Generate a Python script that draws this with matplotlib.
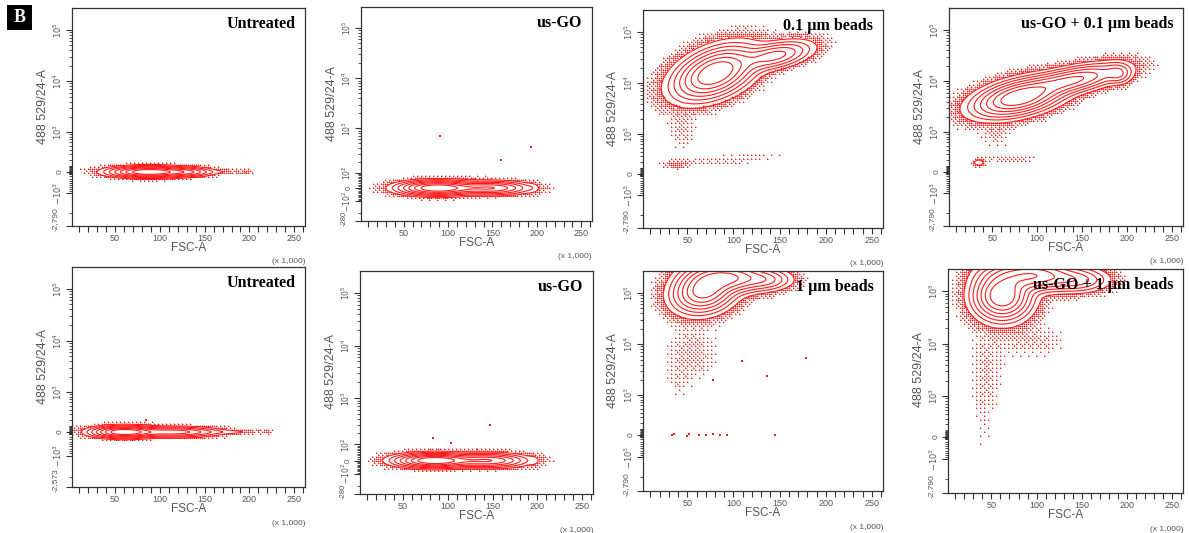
import numpy as np
import matplotlib
matplotlib.use("Agg")
import matplotlib.pyplot as plt
from matplotlib.colors import to_rgba
from matplotlib.patches import Rectangle
from matplotlib.ticker import FixedLocator, FuncFormatter, NullFormatter

plt.rcParams["font.family"] = ["Liberation Sans", "DejaVu Sans"]

RED = "#ff1a1a"
PINK = "#ff9a9a"
AXIS_GREY = "#333333"
TEXT_GREY = "#555555"

# ---- panel data -------------------------------------------------------------
TITLES = ["Untreated", "us-GO", "0.1 µm beads", "us-GO + 0.1 µm beads",
          "Untreated", "us-GO", "1 µm beads", "us-GO + 1 µm beads"]
Y_MIN = [-2790, -280, -2790, -2790, -2573, -280, -2790, -2790]
Y_MAX = 262144
# biexponential display: linear width of the positive branch, share of the axis below zero
POS_WIDTH = [346, 131, 346, 346, 346, 131, 346, 346]
ZERO_FRAC = [0.248, 0.154, 0.248, 0.248, 0.25, 0.15, 0.255, 0.25]
FSC_TICKS = [50, 100, 150, 200, 250]

# populations: (FSC x1000, 488 529/24-A value, FSC spread, display spread, tilt, weight)
POP_UNTREATED_1 = [(88, 0, 22, 0.013, 0.0, 1.0),
                   (130, 0, 15, 0.011, 0.0, 0.3),
                   (170, 0, 18, 0.007, 0.0, 0.022),
                   (196, 0, 4, 0.006, 0.0, 0.02)]
POP_USGO_1 = [(88, 0, 22, 0.017, 0.0, 1.0),
              (148, 0, 22, 0.016, 0.0, 0.5),
              (195, 0, 4, 0.016, 0.0, 0.02)]
POP_BEADS01 = [(80, 15600, 22, 0.055, 0.0012, 1.0),
               (145, 34000, 20, 0.03, 0.0008, 0.4),
               (38, 146, 8, 0.012, 0.0, 0.02),
               (90, 221, 40, 0.015, 0.0003, 0.005),
               (45, 1200, 10, 0.06, 0.0, 0.005)]
POP_USGO_BEADS01 = [(80, 4800, 25, 0.04, 0.0008, 1.0),
                    (140, 10500, 28, 0.03, 0.0008, 0.55),
                    (190, 14000, 8, 0.025, 0.0, 0.2),
                    (35, 146, 4, 0.01, 0.0, 0.06),
                    (70, 221, 20, 0.012, 0.0, 0.007),
                    (55, 890, 12, 0.04, 0.0, 0.005)]
POP_UNTREATED_2 = [(60, 0, 18, 0.0135, 0.0, 1.0),
                   (115, 0, 25, 0.012, 0.0, 0.45),
                   (175, 0, 25, 0.006, 0.0, 0.035),
                   (220, 0, 4, 0.005, 0.0, 0.02)]
POP_USGO_2 = [(85, 0, 22, 0.016, 0.0, 1.0),
              (145, 0, 22, 0.016, 0.0, 0.5),
              (196, 0, 4, 0.016, 0.0, 0.02)]
POP_BEADS1 = [(68, 109000, 17, 0.05, 0.0005, 1.0),
              (95, 196000, 22, 0.035, 0.0, 0.8),
              (135, 177000, 15, 0.025, 0.0, 0.25),
              (55, 6500, 18, 0.08, 0.0, 0.007),
              (40, 1640, 8, 0.06, 0.0, 0.003)]
POP_USGO_BEADS1 = [(62, 82000, 16, 0.055, 0.0, 1.0),
                   (95, 196000, 25, 0.035, 0.0, 0.7),
                   (145, 162000, 18, 0.028, 0.0, 0.25),
                   (45, 3300, 12, 0.12, 0.0, 0.005),
                   (40, 184, 8, 0.12, 0.0, 0.002),
                   (95, 11500, 25, 0.05, 0.0, 0.005)]
POPULATIONS = [POP_UNTREATED_1, POP_USGO_1, POP_BEADS01, POP_USGO_BEADS01,
               POP_UNTREATED_2, POP_USGO_2, POP_BEADS1, POP_USGO_BEADS1]

# single events away from the main populations
OUT_FSC = [[], [91, 160, 193], [], [], [85], [147, 83, 104],
           [33, 36, 50, 52, 63, 70, 78, 85, 93, 145, 179, 136, 109, 78], []]
OUT_FL = [[], [702, 218, 420], [], [], [190], [300, 154, 112],
          [-20, 10, -30, 20, 0, -10, 15, -25, 5, 0, 5300, 2400, 4600, 2000], []]

CONTOUR_LEVELS = [0.03, 0.07, 0.13, 0.22, 0.34, 0.5, 0.7]
DOT_FLOOR = 0.0012      # below this density no events are drawn
DOT_PEAK = 0.3          # share of pixels lit just outside the outer contour

# axes boxes in pixels: left, right, top, bottom
BOXES = [(72, 305, 8, 226), (361, 592, 7, 221), (643, 883, 10, 228), (949, 1183, 8, 226),
         (72, 305, 267, 487), (360, 593, 271, 494), (643, 883, 271, 491), (948, 1183, 269, 493)]
X_RANGE = (2, 262)

W, H = 1189, 533
fig = plt.figure(figsize=(W / 100, H / 100), dpi=100)


def bayer(n):
    m = np.array([[0]])
    while m.shape[0] < n:
        m = np.block([[4 * m, 4 * m + 2], [4 * m + 3, 4 * m + 1]])
    return (m + 0.5) / m.size


BAYER = bayer(8)


def make_scale(ymin, wp, zf):
    pos_span = np.arcsinh(Y_MAX / wp)
    neg_k = pos_span * zf / (1 - zf) / np.arcsinh(1.0)
    wn = abs(ymin)

    def fwd(v):
        v = np.asarray(v, dtype=float)
        return np.where(v >= 0, np.arcsinh(np.maximum(v, 0) / wp),
                        neg_k * np.arcsinh(np.minimum(v, 0) / wn))

    def inv(s):
        s = np.asarray(s, dtype=float)
        return np.where(s >= 0, wp * np.sinh(np.maximum(s, 0)),
                        wn * np.sinh(np.minimum(s, 0) / neg_k))

    return fwd, inv


def y_ticks(ymin, wp):
    if wp < 200:
        major = [-100, 0, 100, 1e3, 1e4, 1e5]
        labels = ["$-10^2$", "0", "$10^2$", "$10^3$", "$10^4$", "$10^5$"]
    else:
        major = [-1e3, 0, 1e3, 1e4, 1e5]
        labels = ["$-10^3$", "0", "$10^3$", "$10^4$", "$10^5$"]
    minor = []
    for n in range(1, 5):
        for k in range(1, 10):
            for s in (1, -1):
                v = s * k * 10 ** n
                if v not in major and ymin < v < Y_MAX:
                    minor.append(v)
    return major, labels, minor


def density(pop, X, T, norm):
    D = np.zeros_like(X)
    for fsc, fl, sx, st, tilt, wt in pop:
        tc = norm(fl) + tilt * (X - fsc)
        D += wt * np.exp(-0.5 * ((X - fsc) / sx) ** 2 - 0.5 * ((T - tc) / st) ** 2)
    return D


for i in range(8):
    l, r, t, b = BOXES[i]
    ax = fig.add_axes([l / W, 1 - b / H, (r - l) / W, (b - t) / H])
    ymin = Y_MIN[i]
    small_scale = POS_WIDTH[i] < 200
    fwd, inv = make_scale(ymin, POS_WIDTH[i], ZERO_FRAC[i])
    lo, hi = fwd(ymin), fwd(Y_MAX)

    def norm(v):
        return (fwd(v) - lo) / (hi - lo)

    def unnorm(tt):
        return inv(lo + tt * (hi - lo))

    pop = POPULATIONS[i]
    # fine grid (uniform in display space) for the contour lines
    X, T = np.meshgrid(np.linspace(*X_RANGE, 600), np.linspace(0, 1, 800))
    D = density(pop, X, T, norm)
    peak = D.max()
    D = D / peak

    # one cell per screen pixel for the single events outside the outer contour
    nx, ny = r - l, b - t
    PX, PY = np.meshgrid(np.arange(nx), np.arange(ny))
    XP = X_RANGE[0] + (PX + 0.5) / nx * (X_RANGE[1] - X_RANGE[0])
    TP = (PY + 0.5) / ny
    DP = density(pop, XP, TP, norm) / peak
    s = np.clip((np.log(np.maximum(DP, 1e-12)) - np.log(DOT_FLOOR))
                / (np.log(CONTOUR_LEVELS[0]) - np.log(DOT_FLOOR)), 0, 1)
    p = DOT_PEAK * s ** 1.3
    p[DP >= CONTOUR_LEVELS[0]] = 0
    lit = p > BAYER[PY % 8, PX % 8]
    halo = np.zeros_like(lit)
    halo[:, 1:] |= lit[:, :-1]
    halo[1:, :] |= lit[:-1, :]
    events = np.ones((ny, nx, 4))
    events[halo & ~lit] = to_rgba(PINK)
    events[lit] = to_rgba(RED)

    ax.set_yscale("function", functions=(fwd, inv))
    ax.imshow(events, extent=(0, 1, 0, 1), transform=ax.transAxes, origin="lower",
              interpolation="nearest", aspect="auto", zorder=1)
    ax.contour(X, unnorm(T), D, levels=CONTOUR_LEVELS, colors=RED, linewidths=0.8, zorder=2)
    if OUT_FSC[i]:
        ax.scatter(OUT_FSC[i], OUT_FL[i], s=1.5, marker="s", c=RED, linewidths=0, zorder=2)

    ax.set_xlim(*X_RANGE)
    ax.set_ylim(ymin, Y_MAX)

    ax.xaxis.set_major_locator(FixedLocator(list(range(10, 261, 10))))
    ax.xaxis.set_major_formatter(FuncFormatter(lambda v, p: f"{int(v)}" if int(v) in FSC_TICKS else ""))
    major, labels, minor = y_ticks(ymin, POS_WIDTH[i])
    ax.yaxis.set_major_locator(FixedLocator([ymin] + major))
    ax.yaxis.set_major_formatter(FuncFormatter(lambda v, p, lab=dict(zip(major, labels)): lab.get(v, "")))
    ax.yaxis.set_minor_locator(FixedLocator(minor))
    ax.yaxis.set_minor_formatter(NullFormatter())
    ax.tick_params(axis="both", which="major", length=4, width=0.8, color=AXIS_GREY,
                   labelsize=6.5, labelcolor=TEXT_GREY, pad=2)
    ax.tick_params(axis="y", which="minor", length=2.5, width=0.6, color=AXIS_GREY)
    ax.tick_params(axis="y", which="major", labelrotation=90,
                   labelsize=5.5 if small_scale else 6)
    for lab in ax.get_yticklabels():
        lab.set_va("center")
    # axis minimum written at the bottom of the scale
    ax.annotate(f"{ymin:,}", xy=(0, ymin), xycoords=("axes fraction", "data"),
                xytext=(-12, 2 if small_scale else 5), textcoords="offset points", rotation=90,
                ha="center", va="center", fontsize=5.5 if small_scale else 6, color=TEXT_GREY)

    for spine in ax.spines.values():
        spine.set_color(AXIS_GREY)
        spine.set_linewidth(0.9)
        spine.set_zorder(4)

    ax.set_xlabel("FSC-A", fontsize=8.5, color=TEXT_GREY, labelpad=-1)
    ax.set_ylabel("488 529/24-A", fontsize=9, color=TEXT_GREY)
    ax.yaxis.set_label_coords(-0.10, 0.55)
    ax.text(1.0, -0.165, "(x 1,000)", transform=ax.transAxes, ha="right", va="center",
            fontsize=6, color=TEXT_GREY)

    ax.annotate(TITLES[i], xy=(1, 1), xycoords="axes fraction", xytext=(-7, -6),
                textcoords="offset points", ha="right", va="top", fontsize=11.5,
                fontweight="bold", family=["Liberation Serif", "DejaVu Serif"], color="black",
                zorder=3)

fig.patches.append(Rectangle((7 / W, 1 - 30 / H), 25 / W, 25 / H, transform=fig.transFigure,
                             facecolor="black", edgecolor="none"))
fig.text(19.5 / W, 1 - 17.5 / H, "B", ha="center", va="center", color="white",
         fontsize=13, fontweight="bold", family=["Liberation Serif", "DejaVu Serif"])

fig.savefig("out.png", dpi=100, facecolor="white")
